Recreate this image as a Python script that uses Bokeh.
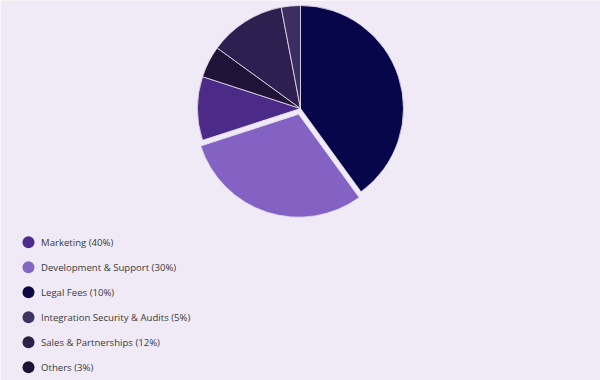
import numpy as np
from bokeh.plotting import figure
from bokeh.models import Range1d, ColumnDataSource
from bokeh.core.properties import value
from bokeh.embed import file_html
from bokeh.resources import INLINE

# ---- data ----
categories = ["Marketing", "Development & Support", "Legal Fees",
              "Integration Security & Audits", "Sales & Partnerships", "Others"]
shares = [40, 30, 10, 5, 12, 3]
legend_labels = [f"{c} ({v}%)" for c, v in zip(categories, shares)]
slice_colors = ["#08064a", "#8462c4", "#4b2a88", "#211338", "#2f1f50", "#3b2e63"]
legend_colors = ["#4d2d8c", "#8466c6", "#0b0844", "#3e3464", "#2c2248", "#1e1533"]
explode = [0, 6, 0, 0, 0, 0]

W, H = 600, 380
BG = "#f0eaf6"

p = figure(width=W, height=H, output_backend="svg", toolbar_location=None,
           x_range=Range1d(0, W), y_range=Range1d(0, H), min_border=0,
           background_fill_color=BG, border_fill_color=BG)
p.axis.visible = False
p.grid.visible = False
p.outline_line_color = None

# pie geometry (pixels)
cx, cy, r = 300, 272, 103
vals = np.array(shares, dtype=float)
frac = vals / vals.sum()
cum_end = np.cumsum(frac)
cum_start = cum_end - frac
start_ang = np.pi / 2 - cum_end * 2 * np.pi
end_ang = np.pi / 2 - cum_start * 2 * np.pi
mid = (start_ang + end_ang) / 2
ex = np.array(explode, dtype=float)
xs = cx + ex * np.cos(mid)
ys = cy + ex * np.sin(mid)

src = ColumnDataSource(dict(x=xs, y=ys, s=start_ang, e=end_ang, c=slice_colors))
p.wedge(x="x", y="y", radius=r, start_angle="s", end_angle="e",
        fill_color="c", line_color="#e8e2f0", line_width=0.8, source=src)

# legend
ly0, lstep = 138.3, 25
lys = [ly0 - i * lstep for i in range(len(categories))]
lsrc = ColumnDataSource(dict(x=[28] * len(lys), tx=[40.5] * len(lys), y=lys,
                             c=legend_colors, t=legend_labels))
p.scatter(x="x", y="y", size=12, fill_color="c", line_color=None, source=lsrc)
p.text(x="tx", y="y", text="t", text_font=value("Open Sans"), text_font_size="9.6px",
       text_color="#3a3a3a", text_baseline="middle", text_align="left", source=lsrc)

open("out.html", "w").write(file_html(p, INLINE))
